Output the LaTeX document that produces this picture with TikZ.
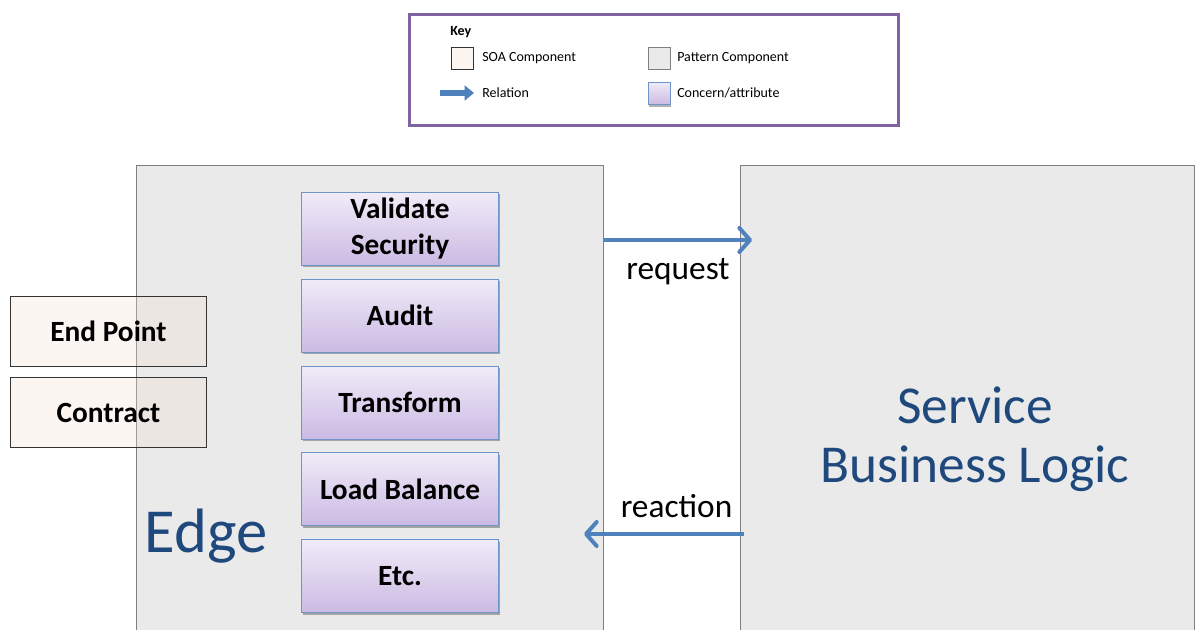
\documentclass[tikz,border=0pt]{standalone}
\usepackage{fontspec}
\setmainfont{Carlito}
\usetikzlibrary{positioning, arrows.meta, shadows}
\definecolor{edgegray}{HTML}{EAEAEA}
\definecolor{framegray}{HTML}{7F7F7F}
\definecolor{relblue}{HTML}{4F81BD}
\definecolor{darkblue}{HTML}{1F497D}
\definecolor{keypurple}{HTML}{8064A2}
\definecolor{lavtop}{HTML}{F0EBF8}
\definecolor{lavbot}{HTML}{CBBAE3}
\definecolor{concernline}{HTML}{6E95C9}
\definecolor{soacream}{HTML}{F2E0D2}

\begin{document}
\begin{tikzpicture}[x=0.75pt, y=-0.75pt, node distance=9.6pt,
    every node/.style={inner sep=0pt},
    patternbox/.style={draw=framegray, line width=0.75pt, fill=edgegray},
    soabox/.style={draw=black!80, line width=0.75pt, fill=soacream, fill opacity=0.3, draw opacity=1, text opacity=1,
      minimum width=147pt, minimum height=52.5pt, font=\fontsize{22}{26}\selectfont\bfseries},
    concern/.style={draw=concernline, line width=0.75pt, top color=lavtop, bottom color=lavbot,
      drop shadow={shadow xshift=1pt, shadow yshift=-1.5pt, opacity=0.3, fill=black},
      minimum width=147.75pt, minimum height=54.75pt, align=center, font=\fontsize{22}{27}\selectfont\bfseries},
    relation/.style={draw=relblue, line width=3pt, -{Straight Barb[length=8pt, width=18pt, round]}},
    keytext/.style={anchor=west, font=\fontsize{10.5}{12}\selectfont}]
    \useasboundingbox (0,0) rectangle (1195,630);

    % Key
    \node[draw=keypurple, line width=2.25pt, fill=white, anchor=north west, minimum width=366.75pt, minimum height=83.25pt] (legend) at (408,13) {};
    \node[keytext, font=\fontsize{10.5}{12}\selectfont\bfseries] (keytitle) at (450,32) {Key};
    \node[draw=black!80, line width=0.75pt, fill=soacream!30, minimum width=16pt, minimum height=17pt] (soakey) at (462.5,58.5) {};
    \node[keytext] (soatext) at (482,58) {SOA Component};
    \node[patternbox, minimum width=16.5pt, minimum height=17pt] (patternkey) at (659,58.5) {};
    \node[keytext] (patterntext) at (677,58) {Pattern Component};
    \coordinate (relstart) at (440,93);
    \coordinate (relend) at (474,93);
    \draw[draw=relblue, line width=4pt, -{Triangle[length=7pt, width=11pt]}] (relstart) -- (relend);
    \node[keytext] (reltext) at (482,93) {Relation};
    \node[concern, minimum width=16.5pt, minimum height=17pt] (concernkey) at (659,93.5) {};
    \node[keytext] (concerntext) at (677,93) {Concern/attribute};

    % Edge and service
    \node[patternbox, anchor=north west, minimum width=350.25pt, minimum height=351pt] (edge) at (136,165) {};
    \node[patternbox, anchor=north west, minimum width=340.5pt, minimum height=351pt] (service) at (740,165) {};
    \node[anchor=base, text=darkblue, font=\fontsize{47}{52}\selectfont] (edgelabel) at (206,552) {Edge};
    \node[anchor=north, align=center, text=darkblue, font=\fontsize{40}{44}\selectfont] (servicelabel) at (975,387) {Service\\Business Logic};

    % SOA components
    \node[soabox, anchor=north west] (endpoint) at (10,296) {End Point};
    \node[soabox, below=7.5pt of endpoint] (contract) {Contract};

    % Concerns
    \node[concern, anchor=north west] (validate) at (301,192) {Validate\\Security};
    \node[concern, below=of validate] (audit) {Audit};
    \node[concern, below=of audit] (transform) {Transform};
    \node[concern, below=of transform] (balance) {Load Balance};
    \node[concern, below=of balance] (etc) {Etc.};

    % Relations
    \coordinate (reqline) at (0,240);
    \coordinate (realine) at (0,534);
    \draw[relation] (edge.east |- reqline) -- ([xshift=9pt]service.west |- reqline)
      node[midway, below=12.5pt, font=\fontsize{25}{28}\selectfont] (reqlabel) {request};
    \draw[relation] ([xshift=3pt]service.west |- realine) -- ([xshift=-15pt]edge.east |- realine)
      node[midway, above=11pt, xshift=9.4pt, font=\fontsize{25}{28}\selectfont] (realabel) {reaction};
\end{tikzpicture}
\end{document}
